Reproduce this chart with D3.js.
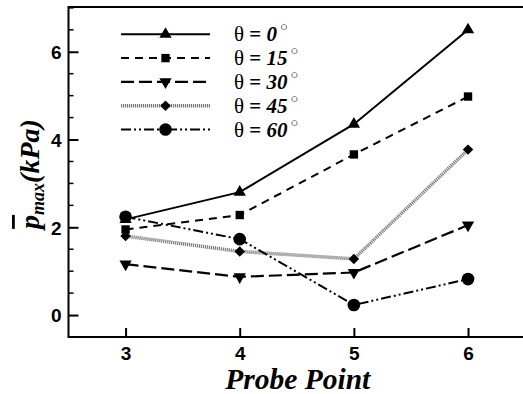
<!DOCTYPE html>
<html><head><meta charset="utf-8">
<script src="https://cdn.jsdelivr.net/npm/d3@7/dist/d3.min.js"></script>
<style>body{margin:0;background:#fff}svg{display:block}</style>
</head><body>
<svg id="c" width="523" height="394"></svg>
<script>
const probePoints = [3, 4, 5, 6];
const angles = ["0", "15", "30", "45", "60"];
const p0  = [2.18, 2.80, 4.35, 6.50];
const p15 = [1.95, 2.28, 3.66, 4.98];
const p30 = [1.16, 0.87, 0.97, 2.05];
const p45 = [1.80, 1.45, 1.28, 3.77];
const p60 = [2.24, 1.73, 0.23, 0.82];
const yTicks = [0, 2, 4, 6];
const xTicks = [3, 4, 5, 6];

const series = [
  {name: angles[0], values: p0,  marker: "triangle", dash: null, color: "#000", width: 2},
  {name: angles[1], values: p15, marker: "square", dash: "8,6", color: "#000", width: 2},
  {name: angles[2], values: p30, marker: "triangleDown", dash: "13,5", color: "#000", width: 2.2},
  {name: angles[3], values: p45, marker: "diamond", dash: "1.2,0.8", color: "#7a7a7a", width: 3.5},
  {name: angles[4], values: p60, marker: "circle", dash: "10,3,2,3,2,3", color: "#000", width: 2}
];

const svg = d3.select("#c");
const x = d3.scaleLinear().domain([2.5, 6.5]).range([68.5, 525.1]);
const y = d3.scaleLinear().domain([-0.5, 7.02]).range([337, 7]);

const symMap = {
  triangle: d3.symbolTriangle,
  triangleDown: d3.symbolTriangle,
  square: d3.symbolSquare,
  diamond: d3.symbolSquare,
  circle: d3.symbolCircle
};
const symSize = {triangle: 65, triangleDown: 65, square: 70, diamond: 55, circle: 125};
function drawMarker(g, type, cx, cy) {
  let rot = "";
  if (type === "triangleDown") rot = " rotate(180)";
  if (type === "diamond") rot = " rotate(45)";
  g.append("path")
    .attr("d", d3.symbol().type(symMap[type]).size(symSize[type])())
    .attr("transform", `translate(${cx},${cy})` + rot)
    .attr("fill", "#000");
}

// Lines
const line = d3.line().x((d, i) => x(probePoints[i])).y(d => y(d));
const plot = svg.append("g");
series.forEach(s => {
  plot.append("path").datum(s.values)
    .attr("d", line)
    .attr("fill", "none")
    .attr("stroke", s.color)
    .attr("stroke-width", s.width)
    .attr("stroke-dasharray", s.dash);
});
series.forEach(s => {
  s.values.forEach((v, i) => drawMarker(plot, s.marker, x(probePoints[i]), y(v)));
});

// Axes frame
const fr = svg.append("g").attr("stroke", "#000").attr("fill", "none");
fr.append("line").attr("x1", x(2.5)).attr("x2", 523).attr("y1", y(7.02)).attr("y2", y(7.02)).attr("stroke-width", 2);
fr.append("line").attr("x1", x(2.5)).attr("x2", 523).attr("y1", y(-0.5)).attr("y2", y(-0.5)).attr("stroke-width", 2);
fr.append("line").attr("x1", x(2.5)).attr("x2", x(2.5)).attr("y1", y(7.02)-1).attr("y2", y(-0.5)+1).attr("stroke-width", 2);

// Y axis ticks
const yAxis = d3.axisLeft(y).tickValues(yTicks).tickSize(-10).tickFormat(d3.format("d"));
const ya = svg.append("g").attr("transform", `translate(${x(2.5)},0)`).call(yAxis);
ya.select(".domain").remove();
ya.selectAll(".tick line").attr("stroke-width", 2);
ya.selectAll(".tick text").attr("font-family", "Liberation Sans, Arial, sans-serif").attr("font-weight", "bold").attr("font-size", 19).attr("fill", "#000").attr("x", -7).attr("dy", "0.36em");
const minorY = d3.range(-0.5, 7.01, 0.5).filter(v => !yTicks.includes(v));
svg.append("g").selectAll("line").data(minorY).join("line")
  .attr("x1", x(2.5)).attr("x2", x(2.5) + 5).attr("y1", d => y(d)).attr("y2", d => y(d))
  .attr("stroke", "#000").attr("stroke-width", 1.5);

// X axis ticks
const xAxis = d3.axisBottom(x).tickValues(xTicks).tickSize(-9).tickFormat(d3.format("d"));
const xa = svg.append("g").attr("transform", `translate(0,${y(-0.5)})`).call(xAxis);
xa.select(".domain").remove();
xa.selectAll(".tick line").attr("stroke-width", 2);
xa.selectAll(".tick text").attr("font-family", "Liberation Sans, Arial, sans-serif").attr("font-weight", "bold").attr("font-size", 19).attr("fill", "#000").attr("y", 10).attr("dy", "0.71em");

// X title
svg.append("text").attr("x", (x(3) + x(6)) / 2 + 1).attr("y", 389)
  .attr("text-anchor", "middle").attr("font-family", "Liberation Serif, Times New Roman, serif")
  .attr("font-weight", "bold").attr("font-style", "italic").attr("font-size", 29.5).text("Probe Point");

// Y title
const yt = svg.append("text").attr("transform", "translate(39,174) rotate(-90)")
  .attr("text-anchor", "middle").attr("font-family", "Liberation Serif, Times New Roman, serif")
  .attr("font-weight", "bold").attr("font-style", "italic").attr("font-size", 28);
yt.append("tspan").attr("text-decoration", "overline").text("p");
yt.append("tspan").attr("font-size", 18).attr("dy", 5).text("max");
yt.append("tspan").attr("dy", -5).text("(kPa)");

// Legend
const lg = svg.append("g");
series.forEach((s, i) => {
  const ly = 34.3 + i * 23.8;
  lg.append("line").attr("x1", 121).attr("x2", 210).attr("y1", ly).attr("y2", ly)
    .attr("stroke", s.color).attr("stroke-width", s.width).attr("stroke-dasharray", s.dash);
  drawMarker(lg, s.marker, 165.5, ly);
  const t = lg.append("text").attr("x", 234).attr("y", ly + 7)
    .attr("font-family", "Liberation Serif, Times New Roman, serif").attr("font-size", 21);
  t.append("tspan").text("θ ");
  t.append("tspan").attr("font-weight", "bold").text("= ");
  t.append("tspan").attr("font-weight", "bold").attr("font-style", "italic").text(s.name);
  t.append("tspan").attr("font-size", 13).attr("dy", -10).attr("dx", 3).text("○");
});
</script>
</body></html>
